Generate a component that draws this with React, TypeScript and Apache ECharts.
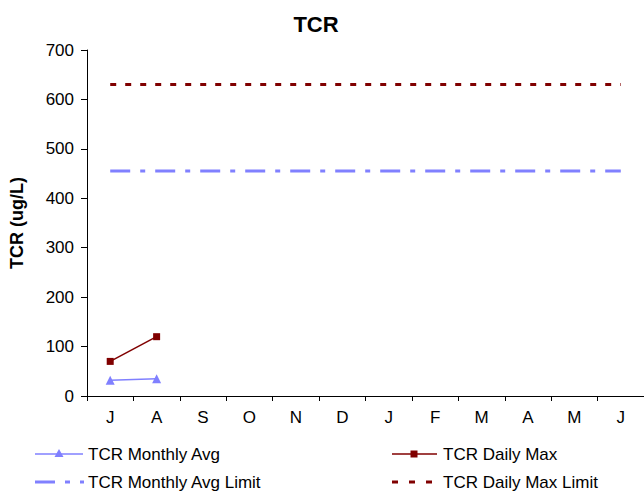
import React, { useEffect, useRef } from "react";
import * as echarts from "echarts";

const categories = ["J", "A", "S", "O", "N", "D", "J", "F", "M", "A", "M", "J"];
const monthlyAvg: (number | null)[] = [32, 35, null, null, null, null, null, null, null, null, null, null];
const dailyMax: (number | null)[] = [70, 120, null, null, null, null, null, null, null, null, null, null];
const monthlyAvgLimit = [455, 455, 455, 455, 455, 455, 455, 455, 455, 455, 455, 455];
const dailyMaxLimit = [630, 630, 630, 630, 630, 630, 630, 630, 630, 630, 630, 630];
const yTicks = { min: 0, max: 700, interval: 100 };
const seriesNames = ["TCR Monthly Avg", "TCR Daily Max", "TCR Monthly Avg Limit", "TCR Daily Max Limit"];

const BLUE = "#8080FF";
const RED = "#800000";
const FONT = "Liberation Sans, Arial, sans-serif";
const AVG_DASH = [20, 10, 5, 10];
const MAX_DASH = [6, 9];

export default function App() {
  const ref = useRef<HTMLDivElement>(null);
  useEffect(() => {
    if (!ref.current) return;
    const chart = echarts.init(ref.current, null, { renderer: "svg" });
    const txt = (x: number, y: number, text: string) => ({
      type: "text",
      x,
      y,
      style: { text, fontFamily: FONT, fontSize: 17, fill: "#000", verticalAlign: "middle", align: "left" },
    });
    const ln = (x1: number, x2: number, y: number, color: string, width: number, dash?: number[]) => ({
      type: "line",
      shape: { x1, y1: y, x2, y2: y },
      style: { stroke: color, lineWidth: width, lineDash: dash },
    });
    const r1 = 454;
    const r2 = 482;
    const legendGraphic = [
      ln(35, 83, r1, BLUE, 1.5),
      {
        type: "polygon",
        shape: { points: [[59, r1 - 5], [54.5, r1 + 3], [63.5, r1 + 3]] },
        style: { fill: BLUE },
      },
      txt(88, r1, seriesNames[0]),
      ln(392, 437, r1, RED, 1.5),
      { type: "rect", shape: { x: 410.5, y: r1 - 3.5, width: 7, height: 7 }, style: { fill: RED } },
      txt(443, r1, seriesNames[1]),
      ln(35, 84, r2, BLUE, 3, AVG_DASH),
      txt(88, r2, seriesNames[2]),
      ln(392, 432, r2, RED, 3, [6, 11]),
      txt(443, r2, seriesNames[3]),
    ];
    chart.setOption({
      animation: false,
      backgroundColor: "#fff",
      title: {
        text: "TCR",
        left: 311,
        textAlign: "center",
        top: 8,
        textStyle: { fontFamily: FONT, fontSize: 22, fontWeight: "bold", color: "#000" },
      },
      graphic: legendGraphic,
      grid: { left: 87, right: 0, top: 50, bottom: 96, containLabel: false },
      xAxis: {
        type: "category",
        data: categories,
        boundaryGap: true,
        axisLine: { lineStyle: { color: "#000", width: 1 } },
        axisTick: { show: true, alignWithLabel: false, length: 5, lineStyle: { color: "#000" } },
        axisLabel: { fontFamily: FONT, fontSize: 17, color: "#000", margin: 13, interval: 0 },
        splitLine: { show: false },
      },
      yAxis: {
        type: "value",
        min: yTicks.min,
        max: yTicks.max,
        interval: yTicks.interval,
        name: "TCR (ug/L)",
        nameLocation: "middle",
        nameGap: 61,
        nameRotate: 90,
        nameTextStyle: { fontFamily: FONT, fontSize: 18, fontWeight: "bold", color: "#000" },
        axisLine: { show: true, lineStyle: { color: "#000", width: 1 } },
        axisTick: { show: true, length: 6, lineStyle: { color: "#000" } },
        axisLabel: { fontFamily: FONT, fontSize: 17, color: "#000", margin: 13 },
        splitLine: { show: false },
      },
      series: [
        {
          name: seriesNames[0],
          type: "line",
          data: monthlyAvg,
          color: BLUE,
          symbol: "triangle",
          symbolSize: 9,
          lineStyle: { color: BLUE, width: 1.5 },
          itemStyle: { color: BLUE },
        },
        {
          name: seriesNames[1],
          type: "line",
          data: dailyMax,
          color: RED,
          symbol: "rect",
          symbolSize: 7,
          lineStyle: { color: RED, width: 1.5 },
          itemStyle: { color: RED },
        },
        {
          name: seriesNames[2],
          type: "line",
          data: monthlyAvgLimit,
          color: BLUE,
          symbol: "none",
          lineStyle: { color: BLUE, width: 3, type: AVG_DASH },
        },
        {
          name: seriesNames[3],
          type: "line",
          data: dailyMaxLimit,
          color: RED,
          symbol: "none",
          lineStyle: { color: RED, width: 3, type: MAX_DASH },
        },
      ],
    });
    return () => chart.dispose();
  }, []);
  return (
    <div
      ref={ref}
      style={{ position: "absolute", left: 0, top: 0, width: 644, height: 492 }}
    />
  );
}
